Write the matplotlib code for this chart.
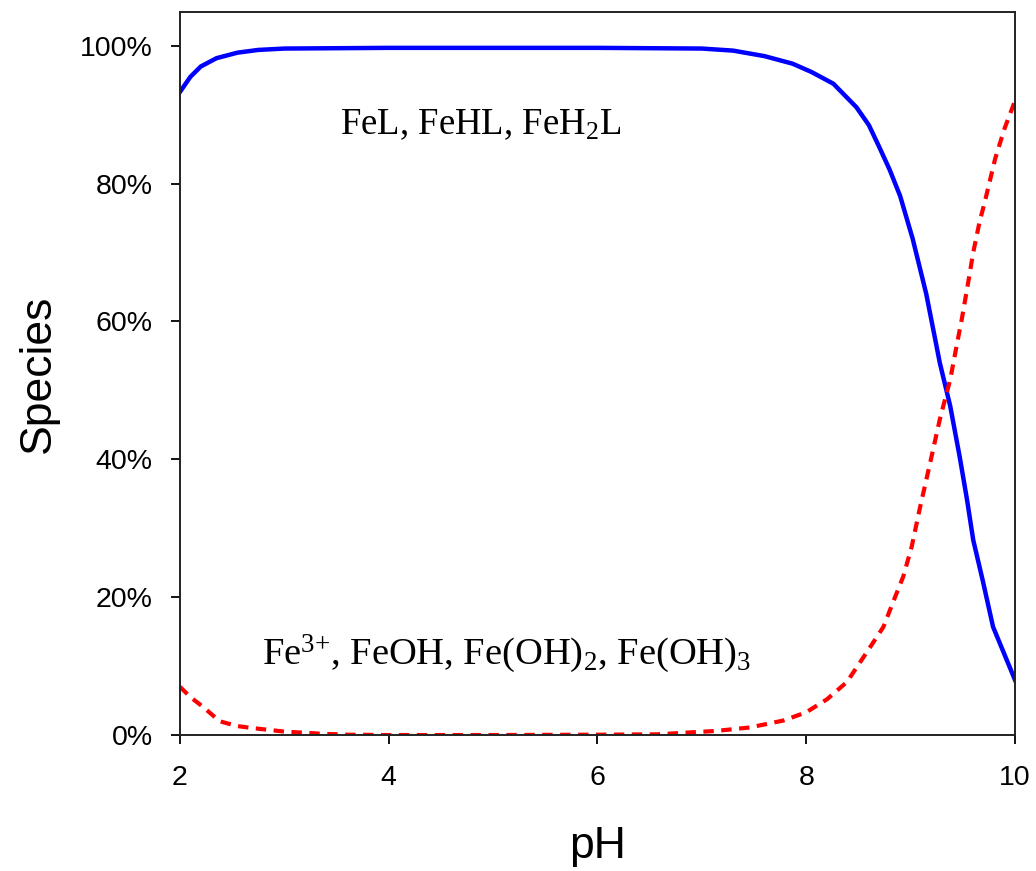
import matplotlib
matplotlib.use("Agg")
import matplotlib.pyplot as plt
from matplotlib.ticker import FuncFormatter

plt.rcParams['font.family'] = ['Liberation Sans', 'DejaVu Sans']
plt.rcParams['mathtext.fontset'] = 'custom'
plt.rcParams['mathtext.rm'] = 'Liberation Serif'
plt.rcParams['mathtext.it'] = 'Liberation Serif'
plt.rcParams['mathtext.default'] = 'regular'

# complexed iron (FeL, FeHL, FeH2L), percent
ph_complex = [2.0, 2.1, 2.2, 2.35, 2.55, 2.75, 3.0, 4.0, 5.0, 6.0, 7.0, 7.3, 7.6,
              7.87, 8.05, 8.26, 8.48, 8.6, 8.7, 8.8, 8.9, 9.02, 9.15, 9.28, 9.38,
              9.47, 9.54, 9.6, 9.69, 9.79, 9.88, 10.0]
pct_complex = [93.3, 95.5, 97.0, 98.2, 99.0, 99.4, 99.6, 99.7, 99.7, 99.7, 99.6,
               99.3, 98.5, 97.4, 96.2, 94.5, 91.1, 88.5, 85.3, 82.0, 78.2, 72.0,
               64.0, 54.0, 47.7, 40.4, 34.2, 28.3, 22.5, 15.7, 12.4, 8.0]

# free / hydrolysed iron, percent
ph_free = [2.0, 2.1, 2.22, 2.38, 2.55, 2.7, 3.0, 3.34, 3.6, 4.0, 5.0, 6.0, 6.57,
           7.14, 7.46, 7.78, 8.0, 8.2, 8.39, 8.58, 8.74, 8.83, 8.93, 9.01, 9.09,
           9.18, 9.28, 9.38, 9.44, 9.49, 9.55, 9.6, 9.66, 9.71, 9.78, 9.81, 9.9,
           10.0]
pct_free = [7.0, 5.5, 4.1, 2.0, 1.3, 1.0, 0.5, 0.2, 0.05, 0.0, 0.0, 0.05, 0.1,
            0.6, 1.1, 2.1, 3.3, 5.2, 7.7, 12.0, 15.7, 19.2, 23.0, 27.3, 33.0,
            39.0, 45.8, 51.6, 56.4, 60.3, 65.5, 70.0, 74.4, 77.3, 81.7, 83.6,
            88.0, 92.0]

fig = plt.figure(figsize=(10.36, 8.71), dpi=100)
ax = fig.add_axes([0.1737, 0.1561, 0.806, 0.8301])

ax.plot(ph_complex, pct_complex, color='#0000ff', lw=3.2, solid_joinstyle='round')
ax.plot(ph_free, pct_free, color='#ff0000', lw=3.0, linestyle=(0, (2.5, 1.8)))

ax.set_xlim(2, 10)
ax.set_ylim(0, 104.9)
ax.set_xticks([2, 4, 6, 8, 10])
ax.set_yticks([0, 20, 40, 60, 80, 100])
ax.yaxis.set_major_formatter(FuncFormatter(lambda v, p: f'{v:.0f}%'))
ax.tick_params(direction='out', length=6.5, width=1.3, labelsize=20.5)
ax.tick_params(axis='x', pad=15)
ax.tick_params(axis='y', pad=13)

for s in ax.spines.values():
    s.set_linewidth(1.4)
    s.set_color('#222222')

ax.set_ylabel('Species', fontsize=32)
ax.set_xlabel('pH', fontsize=32)
ax.yaxis.set_label_coords(-0.145, 0.5)
ax.xaxis.set_label_coords(0.5, -0.126)

serif = ['Liberation Serif', 'DejaVu Serif']
ax.text(3.53, 87.2, 'FeL, FeHL, FeH$_2$L', family=serif, fontsize=26.5,
        va='baseline', ha='left')
ax.text(2.785, 10.2, 'Fe$^{3{+}}$, FeOH, Fe(OH)$_2$, Fe(OH)$_3$', family=serif,
        fontsize=27.7, va='baseline', ha='left')

fig.savefig('out.png', dpi=100)
